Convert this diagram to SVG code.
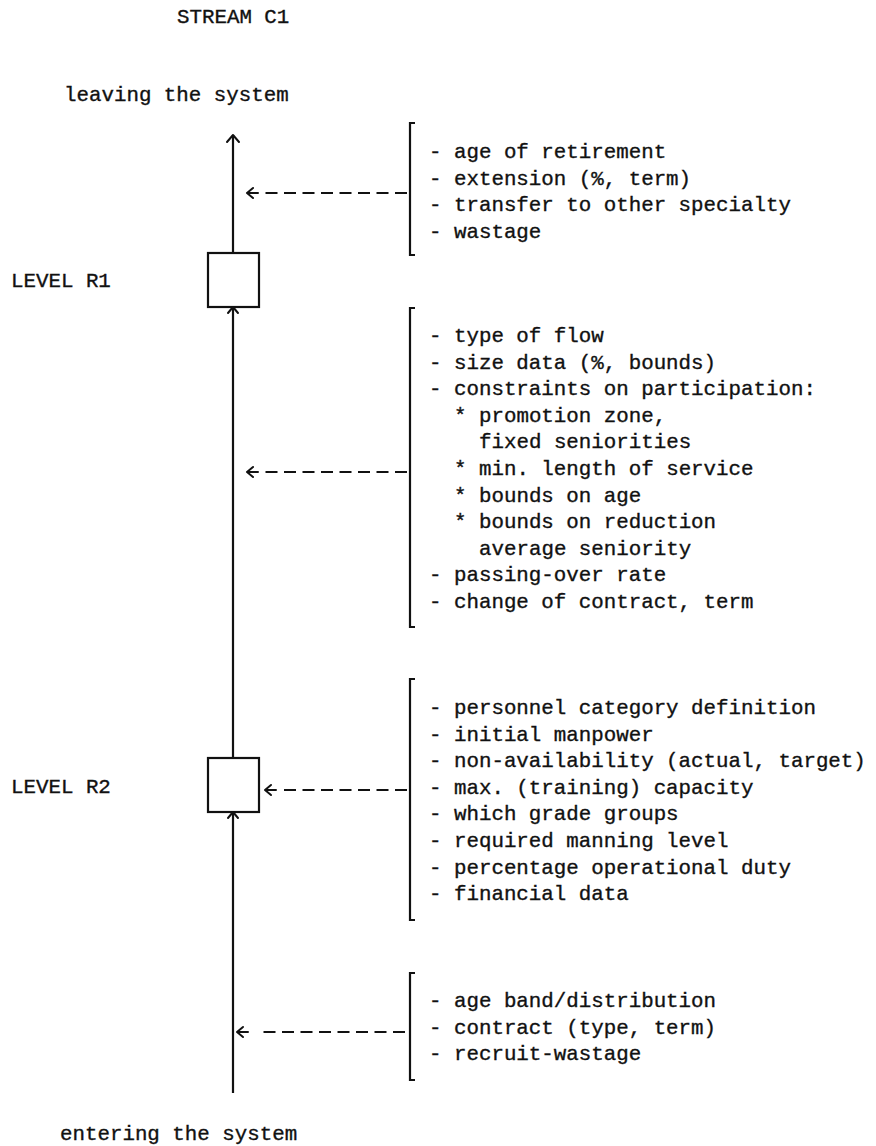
<svg xmlns="http://www.w3.org/2000/svg" width="876" height="1146" viewBox="0 0 876 1146">
  <style>
    text { font-family: "Liberation Mono", "DejaVu Sans Mono", monospace; font-size: 20.8px; fill: #111; stroke: #111; stroke-width: 0.35; }
    .box { fill: none; stroke: #111; stroke-width: 2.2; }
    .flow { fill: none; stroke: #111; stroke-width: 2.2; }
    .head { fill: none; stroke: #111; stroke-width: 2; stroke-linecap: round; stroke-linejoin: round; }
    .dash { fill: none; stroke: #111; stroke-width: 2.2; stroke-dasharray: 12 6.5; }
    .brk { fill: none; stroke: #111; stroke-width: 2.2; }
  </style>

  <!-- titles -->
  <g id="title">
    <text x="177" y="23">STREAM C1</text>
  </g>
  <g id="exit-label">
    <text x="64" y="101">leaving the system</text>
  </g>
  <g id="entry-label">
    <text x="60" y="1140">entering the system</text>
  </g>

  <!-- levels -->
  <g id="level-r1">
    <text x="11" y="287">LEVEL R1</text>
    <rect class="box" x="208" y="253" width="51" height="54"/>
  </g>
  <g id="level-r2">
    <text x="11" y="793">LEVEL R2</text>
    <rect class="box" x="208" y="758" width="51" height="54"/>
  </g>

  <!-- parameter lists -->
  <g id="params-leaving">
    <path class="brk" d="M415,123 H410 V255 H415"/>
    <text x="429" y="158">- age of retirement</text>
    <text x="429" y="184.6">- extension (%, term)</text>
    <text x="429" y="211.2">- transfer to other specialty</text>
    <text x="429" y="237.8">- wastage</text>
  </g>

  <g id="params-promotion">
    <path class="brk" d="M415,308 H410 V627 H415"/>
    <text x="429" y="342">- type of flow</text>
    <text x="429" y="368.6">- size data (%, bounds)</text>
    <text x="429" y="395.2">- constraints on participation:</text>
    <text x="454" y="421.8">* promotion zone,</text>
    <text x="479" y="448.4">fixed seniorities</text>
    <text x="454" y="475">* min. length of service</text>
    <text x="454" y="501.6">* bounds on age</text>
    <text x="454" y="528.2">* bounds on reduction</text>
    <text x="479" y="554.8">average seniority</text>
    <text x="429" y="581.4">- passing-over rate</text>
    <text x="429" y="608">- change of contract, term</text>
  </g>

  <g id="params-level">
    <path class="brk" d="M415,679 H410 V920 H415"/>
    <text x="429" y="714">- personnel category definition</text>
    <text x="429" y="740.6">- initial manpower</text>
    <text x="429" y="767.2">- non-availability (actual, target)</text>
    <text x="429" y="793.8">- max. (training) capacity</text>
    <text x="429" y="820.4">- which grade groups</text>
    <text x="429" y="847">- required manning level</text>
    <text x="429" y="873.6">- percentage operational duty</text>
    <text x="429" y="900.2">- financial data</text>
  </g>

  <g id="params-entering">
    <path class="brk" d="M415,973 H410 V1080 H415"/>
    <text x="429" y="1007">- age band/distribution</text>
    <text x="429" y="1033.6">- contract (type, term)</text>
    <text x="429" y="1060.2">- recruit-wastage</text>
  </g>

  <!-- connectors -->
  <g id="connectors">
    <!-- main stream, bottom to top -->
    <path class="flow" d="M233,1093 V812"/>
    <path class="head" d="M228,818 L233,812 L238,818"/>
    <path class="flow" d="M233,758 V307"/>
    <path class="head" d="M228,313 L233,307 L238,313"/>
    <path class="flow" d="M233,253 V135"/>
    <path class="head" d="M227,142 L233,135 L239,142"/>

    <!-- parameter influences -->
    <path class="head" d="M253,188 L247,193 L253,198 M247,193 H258"/>
    <path class="dash" d="M407,193 H265.5"/>

    <path class="head" d="M253,467 L247,472 L253,477 M247,472 H258"/>
    <path class="dash" d="M407,472 H265.5"/>

    <path class="head" d="M271,785 L265,790 L271,795 M265,790 H276"/>
    <path class="dash" d="M407,790 H284"/>

    <path class="head" d="M243,1027 L237,1032 L243,1037 M237,1032 H248"/>
    <path class="dash" d="M405,1032 H263.5"/>
  </g>
</svg>
